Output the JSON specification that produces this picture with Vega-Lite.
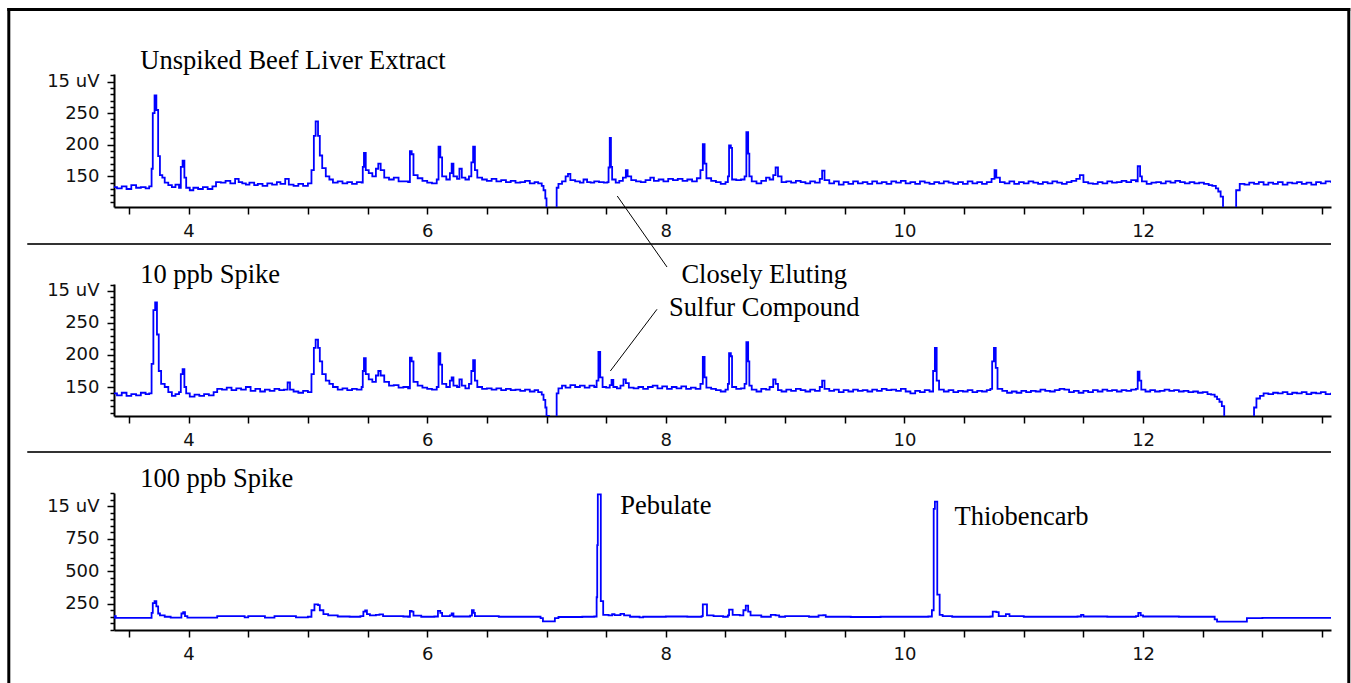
{
"$schema": "https://vega.github.io/schema/vega-lite/v6.json",
"padding": {"left": 6, "top": 7, "right": 2, "bottom": 0},
"bounds": "flush",
"spacing": 77,
"background": "white",
"config": {"view": {"stroke": null}, "axis": {"grid": false, "domainColor": "black", "domainWidth": 2, "tickColor": "black", "tickWidth": 1.5, "labelFont": "DejaVu Sans", "labelFontSize": 18, "labelColor": "#111", "labelOverlap": false, "labelFlush": false}, "text": {"font": "Liberation Serif", "fontSize": 26.5, "color": "black"}},
"datasets": {
"a": [
{"t":3.375,"v":133},{"t":3.40,"v":131},{"t":3.44,"v":134},{"t":3.48,"v":130},{"t":3.52,"v":136},{"t":3.56,"v":132},{"t":3.60,"v":133},{"t":3.64,"v":131},{"t":3.67,"v":134},{"t":3.69,"v":162},{"t":3.70,"v":250},{"t":3.715,"v":278},{"t":3.73,"v":255},{"t":3.745,"v":182},{"t":3.76,"v":152},{"t":3.78,"v":148},{"t":3.80,"v":140},{"t":3.83,"v":136},{"t":3.86,"v":133},{"t":3.89,"v":137},{"t":3.92,"v":132},{"t":3.935,"v":165},{"t":3.95,"v":175},{"t":3.965,"v":148},{"t":3.98,"v":132},{"t":4.01,"v":128},{"t":4.04,"v":132},{"t":4.08,"v":130},{"t":4.12,"v":133},{"t":4.16,"v":130},{"t":4.20,"v":134},{"t":4.23,"v":141},{"t":4.27,"v":140},{"t":4.31,"v":143},{"t":4.35,"v":139},{"t":4.39,"v":146},{"t":4.42,"v":141},{"t":4.45,"v":139},{"t":4.48,"v":137},{"t":4.51,"v":140},{"t":4.55,"v":136},{"t":4.58,"v":138},{"t":4.62,"v":135},{"t":4.66,"v":139},{"t":4.70,"v":137},{"t":4.74,"v":141},{"t":4.77,"v":138},{"t":4.81,"v":146},{"t":4.84,"v":137},{"t":4.88,"v":135},{"t":4.92,"v":138},{"t":4.96,"v":135},{"t":5.00,"v":139},{"t":5.03,"v":160},{"t":5.05,"v":214},{"t":5.065,"v":237},{"t":5.085,"v":214},{"t":5.10,"v":183},{"t":5.12,"v":163},{"t":5.15,"v":150},{"t":5.18,"v":145},{"t":5.21,"v":140},{"t":5.25,"v":142},{"t":5.29,"v":139},{"t":5.33,"v":141},{"t":5.37,"v":138},{"t":5.41,"v":141},{"t":5.45,"v":140},{"t":5.46,"v":165},{"t":5.47,"v":187},{"t":5.485,"v":160},{"t":5.51,"v":155},{"t":5.54,"v":150},{"t":5.57,"v":162},{"t":5.59,"v":170},{"t":5.61,"v":160},{"t":5.64,"v":148},{"t":5.68,"v":145},{"t":5.72,"v":148},{"t":5.76,"v":142},{"t":5.80,"v":142},{"t":5.84,"v":141},{"t":5.855,"v":190},{"t":5.87,"v":185},{"t":5.885,"v":152},{"t":5.92,"v":147},{"t":5.96,"v":143},{"t":6.00,"v":140},{"t":6.04,"v":139},{"t":6.08,"v":145},{"t":6.095,"v":197},{"t":6.11,"v":180},{"t":6.125,"v":150},{"t":6.16,"v":145},{"t":6.19,"v":155},{"t":6.205,"v":170},{"t":6.22,"v":150},{"t":6.25,"v":146},{"t":6.27,"v":162},{"t":6.29,"v":148},{"t":6.32,"v":145},{"t":6.35,"v":150},{"t":6.37,"v":172},{"t":6.385,"v":197},{"t":6.40,"v":160},{"t":6.42,"v":148},{"t":6.46,"v":145},{"t":6.50,"v":143},{"t":6.54,"v":146},{"t":6.58,"v":142},{"t":6.62,"v":144},{"t":6.66,"v":141},{"t":6.70,"v":143},{"t":6.74,"v":140},{"t":6.78,"v":141},{"t":6.82,"v":143},{"t":6.86,"v":139},{"t":6.90,"v":141},{"t":6.93,"v":139},{"t":6.96,"v":135},{"t":6.975,"v":128},{"t":6.99,"v":115},{"t":7.00,"v":100},{"t":7.02,"v":60},{"t":7.08,"v":60},{"t":7.085,"v":132},{"t":7.10,"v":138},{"t":7.13,"v":142},{"t":7.16,"v":150},{"t":7.18,"v":154},{"t":7.20,"v":144},{"t":7.24,"v":142},{"t":7.28,"v":140},{"t":7.31,"v":145},{"t":7.34,"v":141},{"t":7.37,"v":140},{"t":7.40,"v":142},{"t":7.44,"v":141},{"t":7.48,"v":140},{"t":7.51,"v":141},{"t":7.52,"v":164},{"t":7.53,"v":211},{"t":7.54,"v":165},{"t":7.55,"v":145},{"t":7.58,"v":140},{"t":7.61,"v":143},{"t":7.64,"v":148},{"t":7.665,"v":160},{"t":7.68,"v":150},{"t":7.71,"v":144},{"t":7.75,"v":142},{"t":7.79,"v":141},{"t":7.83,"v":144},{"t":7.87,"v":148},{"t":7.90,"v":143},{"t":7.94,"v":145},{"t":7.98,"v":142},{"t":8.02,"v":146},{"t":8.06,"v":144},{"t":8.10,"v":146},{"t":8.14,"v":143},{"t":8.18,"v":145},{"t":8.22,"v":142},{"t":8.26,"v":147},{"t":8.29,"v":160},{"t":8.31,"v":201},{"t":8.325,"v":170},{"t":8.34,"v":147},{"t":8.38,"v":143},{"t":8.42,"v":141},{"t":8.46,"v":138},{"t":8.50,"v":141},{"t":8.52,"v":150},{"t":8.53,"v":199},{"t":8.545,"v":195},{"t":8.555,"v":145},{"t":8.59,"v":144},{"t":8.63,"v":145},{"t":8.66,"v":150},{"t":8.675,"v":220},{"t":8.69,"v":186},{"t":8.70,"v":150},{"t":8.72,"v":142},{"t":8.76,"v":139},{"t":8.80,"v":143},{"t":8.84,"v":148},{"t":8.87,"v":145},{"t":8.90,"v":152},{"t":8.92,"v":164},{"t":8.94,"v":150},{"t":8.97,"v":141},{"t":9.01,"v":142},{"t":9.05,"v":140},{"t":9.09,"v":143},{"t":9.13,"v":141},{"t":9.17,"v":139},{"t":9.21,"v":142},{"t":9.25,"v":140},{"t":9.29,"v":146},{"t":9.31,"v":159},{"t":9.33,"v":144},{"t":9.37,"v":139},{"t":9.41,"v":142},{"t":9.45,"v":137},{"t":9.49,"v":141},{"t":9.53,"v":138},{"t":9.57,"v":142},{"t":9.61,"v":139},{"t":9.65,"v":141},{"t":9.69,"v":138},{"t":9.73,"v":142},{"t":9.77,"v":139},{"t":9.81,"v":141},{"t":9.85,"v":138},{"t":9.89,"v":142},{"t":9.93,"v":140},{"t":9.97,"v":143},{"t":10.01,"v":139},{"t":10.05,"v":141},{"t":10.09,"v":138},{"t":10.13,"v":142},{"t":10.17,"v":140},{"t":10.21,"v":138},{"t":10.25,"v":141},{"t":10.29,"v":139},{"t":10.33,"v":142},{"t":10.37,"v":140},{"t":10.41,"v":138},{"t":10.45,"v":141},{"t":10.49,"v":138},{"t":10.53,"v":142},{"t":10.57,"v":139},{"t":10.61,"v":141},{"t":10.65,"v":138},{"t":10.69,"v":141},{"t":10.73,"v":146},{"t":10.755,"v":160},{"t":10.77,"v":148},{"t":10.80,"v":141},{"t":10.84,"v":139},{"t":10.88,"v":142},{"t":10.92,"v":138},{"t":10.96,"v":141},{"t":11.00,"v":139},{"t":11.04,"v":142},{"t":11.08,"v":140},{"t":11.12,"v":138},{"t":11.16,"v":141},{"t":11.20,"v":139},{"t":11.24,"v":142},{"t":11.28,"v":140},{"t":11.32,"v":138},{"t":11.36,"v":141},{"t":11.40,"v":143},{"t":11.44,"v":146},{"t":11.47,"v":152},{"t":11.50,"v":141},{"t":11.54,"v":139},{"t":11.58,"v":138},{"t":11.62,"v":141},{"t":11.66,"v":139},{"t":11.70,"v":142},{"t":11.74,"v":140},{"t":11.78,"v":141},{"t":11.82,"v":143},{"t":11.86,"v":141},{"t":11.90,"v":144},{"t":11.94,"v":142},{"t":11.955,"v":166},{"t":11.975,"v":150},{"t":11.99,"v":142},{"t":12.03,"v":138},{"t":12.07,"v":140},{"t":12.11,"v":141},{"t":12.15,"v":139},{"t":12.19,"v":142},{"t":12.23,"v":140},{"t":12.27,"v":143},{"t":12.31,"v":141},{"t":12.35,"v":139},{"t":12.39,"v":141},{"t":12.43,"v":139},{"t":12.47,"v":140},{"t":12.51,"v":138},{"t":12.55,"v":136},{"t":12.58,"v":135},{"t":12.61,"v":131},{"t":12.63,"v":126},{"t":12.65,"v":118},{"t":12.67,"v":90},{"t":12.70,"v":60},{"t":12.77,"v":60},{"t":12.78,"v":128},{"t":12.81,"v":138},{"t":12.85,"v":137},{"t":12.89,"v":140},{"t":12.93,"v":138},{"t":12.97,"v":141},{"t":13.01,"v":137},{"t":13.05,"v":140},{"t":13.09,"v":138},{"t":13.13,"v":141},{"t":13.17,"v":137},{"t":13.21,"v":140},{"t":13.25,"v":139},{"t":13.29,"v":141},{"t":13.33,"v":138},{"t":13.37,"v":140},{"t":13.41,"v":137},{"t":13.45,"v":141},{"t":13.49,"v":139},{"t":13.53,"v":142},{"t":13.575,"v":140}
],
"b": [
{"t":3.375,"v":140},{"t":3.40,"v":137},{"t":3.44,"v":141},{"t":3.48,"v":136},{"t":3.52,"v":139},{"t":3.56,"v":137},{"t":3.60,"v":141},{"t":3.64,"v":139},{"t":3.67,"v":140},{"t":3.69,"v":186},{"t":3.705,"v":270},{"t":3.72,"v":282},{"t":3.735,"v":232},{"t":3.75,"v":175},{"t":3.77,"v":155},{"t":3.80,"v":150},{"t":3.83,"v":142},{"t":3.86,"v":136},{"t":3.89,"v":139},{"t":3.92,"v":142},{"t":3.935,"v":170},{"t":3.95,"v":178},{"t":3.965,"v":150},{"t":3.98,"v":140},{"t":4.01,"v":135},{"t":4.05,"v":138},{"t":4.09,"v":136},{"t":4.13,"v":139},{"t":4.17,"v":137},{"t":4.21,"v":142},{"t":4.24,"v":147},{"t":4.28,"v":146},{"t":4.32,"v":149},{"t":4.36,"v":145},{"t":4.40,"v":148},{"t":4.44,"v":146},{"t":4.48,"v":150},{"t":4.52,"v":144},{"t":4.56,"v":147},{"t":4.60,"v":143},{"t":4.64,"v":146},{"t":4.68,"v":144},{"t":4.72,"v":147},{"t":4.76,"v":145},{"t":4.80,"v":146},{"t":4.83,"v":157},{"t":4.85,"v":146},{"t":4.88,"v":143},{"t":4.92,"v":141},{"t":4.96,"v":144},{"t":5.00,"v":142},{"t":5.03,"v":170},{"t":5.05,"v":211},{"t":5.065,"v":224},{"t":5.085,"v":211},{"t":5.10,"v":190},{"t":5.12,"v":170},{"t":5.15,"v":160},{"t":5.18,"v":155},{"t":5.21,"v":150},{"t":5.25,"v":146},{"t":5.29,"v":148},{"t":5.33,"v":145},{"t":5.37,"v":147},{"t":5.41,"v":146},{"t":5.45,"v":150},{"t":5.46,"v":175},{"t":5.47,"v":195},{"t":5.485,"v":170},{"t":5.51,"v":162},{"t":5.54,"v":158},{"t":5.57,"v":168},{"t":5.59,"v":175},{"t":5.61,"v":168},{"t":5.64,"v":158},{"t":5.68,"v":152},{"t":5.72,"v":153},{"t":5.76,"v":149},{"t":5.80,"v":150},{"t":5.84,"v":148},{"t":5.855,"v":196},{"t":5.87,"v":190},{"t":5.885,"v":158},{"t":5.92,"v":152},{"t":5.96,"v":149},{"t":6.00,"v":147},{"t":6.04,"v":146},{"t":6.08,"v":150},{"t":6.095,"v":203},{"t":6.11,"v":185},{"t":6.125,"v":155},{"t":6.16,"v":150},{"t":6.19,"v":160},{"t":6.205,"v":165},{"t":6.22,"v":152},{"t":6.25,"v":150},{"t":6.27,"v":162},{"t":6.29,"v":152},{"t":6.32,"v":148},{"t":6.35,"v":155},{"t":6.37,"v":175},{"t":6.385,"v":192},{"t":6.40,"v":160},{"t":6.42,"v":150},{"t":6.46,"v":147},{"t":6.50,"v":148},{"t":6.54,"v":146},{"t":6.58,"v":148},{"t":6.62,"v":145},{"t":6.66,"v":147},{"t":6.70,"v":145},{"t":6.74,"v":146},{"t":6.78,"v":144},{"t":6.82,"v":146},{"t":6.86,"v":143},{"t":6.90,"v":145},{"t":6.93,"v":142},{"t":6.96,"v":138},{"t":6.975,"v":130},{"t":6.99,"v":118},{"t":7.00,"v":105},{"t":7.02,"v":60},{"t":7.08,"v":60},{"t":7.085,"v":140},{"t":7.10,"v":148},{"t":7.13,"v":152},{"t":7.16,"v":149},{"t":7.20,"v":153},{"t":7.24,"v":150},{"t":7.28,"v":152},{"t":7.32,"v":149},{"t":7.36,"v":152},{"t":7.40,"v":150},{"t":7.42,"v":160},{"t":7.435,"v":205},{"t":7.45,"v":165},{"t":7.47,"v":150},{"t":7.50,"v":149},{"t":7.53,"v":153},{"t":7.545,"v":161},{"t":7.56,"v":150},{"t":7.59,"v":148},{"t":7.62,"v":152},{"t":7.645,"v":162},{"t":7.665,"v":156},{"t":7.69,"v":149},{"t":7.73,"v":148},{"t":7.77,"v":150},{"t":7.81,"v":147},{"t":7.85,"v":150},{"t":7.89,"v":152},{"t":7.93,"v":148},{"t":7.97,"v":151},{"t":8.01,"v":147},{"t":8.05,"v":150},{"t":8.09,"v":148},{"t":8.13,"v":151},{"t":8.17,"v":147},{"t":8.21,"v":149},{"t":8.25,"v":147},{"t":8.29,"v":155},{"t":8.31,"v":197},{"t":8.325,"v":165},{"t":8.34,"v":149},{"t":8.38,"v":147},{"t":8.42,"v":145},{"t":8.46,"v":143},{"t":8.50,"v":146},{"t":8.52,"v":155},{"t":8.53,"v":203},{"t":8.545,"v":198},{"t":8.555,"v":150},{"t":8.59,"v":147},{"t":8.63,"v":148},{"t":8.66,"v":155},{"t":8.675,"v":220},{"t":8.69,"v":190},{"t":8.70,"v":152},{"t":8.72,"v":146},{"t":8.76,"v":143},{"t":8.80,"v":147},{"t":8.84,"v":146},{"t":8.87,"v":150},{"t":8.90,"v":162},{"t":8.92,"v":155},{"t":8.94,"v":145},{"t":8.97,"v":143},{"t":9.01,"v":146},{"t":9.05,"v":144},{"t":9.09,"v":147},{"t":9.13,"v":145},{"t":9.17,"v":143},{"t":9.21,"v":146},{"t":9.25,"v":144},{"t":9.29,"v":150},{"t":9.31,"v":160},{"t":9.33,"v":147},{"t":9.37,"v":144},{"t":9.41,"v":146},{"t":9.45,"v":142},{"t":9.49,"v":145},{"t":9.53,"v":143},{"t":9.57,"v":146},{"t":9.61,"v":144},{"t":9.65,"v":145},{"t":9.69,"v":143},{"t":9.73,"v":146},{"t":9.77,"v":144},{"t":9.81,"v":147},{"t":9.85,"v":145},{"t":9.89,"v":146},{"t":9.93,"v":144},{"t":9.97,"v":147},{"t":10.01,"v":143},{"t":10.05,"v":140},{"t":10.09,"v":144},{"t":10.13,"v":142},{"t":10.17,"v":145},{"t":10.21,"v":143},{"t":10.24,"v":175},{"t":10.255,"v":211},{"t":10.27,"v":160},{"t":10.29,"v":146},{"t":10.33,"v":143},{"t":10.37,"v":145},{"t":10.41,"v":142},{"t":10.45,"v":144},{"t":10.49,"v":143},{"t":10.53,"v":145},{"t":10.57,"v":142},{"t":10.61,"v":144},{"t":10.65,"v":143},{"t":10.69,"v":145},{"t":10.72,"v":147},{"t":10.735,"v":190},{"t":10.75,"v":211},{"t":10.765,"v":180},{"t":10.78,"v":147},{"t":10.82,"v":144},{"t":10.86,"v":141},{"t":10.90,"v":143},{"t":10.94,"v":141},{"t":10.98,"v":144},{"t":11.02,"v":142},{"t":11.06,"v":144},{"t":11.10,"v":143},{"t":11.14,"v":146},{"t":11.18,"v":144},{"t":11.22,"v":143},{"t":11.26,"v":145},{"t":11.30,"v":147},{"t":11.34,"v":146},{"t":11.38,"v":142},{"t":11.42,"v":144},{"t":11.46,"v":141},{"t":11.50,"v":144},{"t":11.54,"v":142},{"t":11.58,"v":145},{"t":11.62,"v":143},{"t":11.66,"v":146},{"t":11.70,"v":144},{"t":11.74,"v":145},{"t":11.78,"v":143},{"t":11.82,"v":145},{"t":11.86,"v":144},{"t":11.90,"v":146},{"t":11.94,"v":147},{"t":11.955,"v":174},{"t":11.97,"v":160},{"t":11.985,"v":146},{"t":12.02,"v":143},{"t":12.06,"v":145},{"t":12.10,"v":143},{"t":12.14,"v":144},{"t":12.18,"v":146},{"t":12.22,"v":144},{"t":12.26,"v":145},{"t":12.30,"v":143},{"t":12.34,"v":144},{"t":12.38,"v":142},{"t":12.42,"v":143},{"t":12.46,"v":141},{"t":12.50,"v":142},{"t":12.54,"v":139},{"t":12.57,"v":138},{"t":12.60,"v":135},{"t":12.62,"v":131},{"t":12.64,"v":127},{"t":12.66,"v":120},{"t":12.68,"v":90},{"t":12.70,"v":60},{"t":12.92,"v":60},{"t":12.93,"v":118},{"t":12.95,"v":132},{"t":12.98,"v":136},{"t":13.01,"v":140},{"t":13.05,"v":139},{"t":13.09,"v":141},{"t":13.13,"v":140},{"t":13.17,"v":142},{"t":13.21,"v":139},{"t":13.25,"v":141},{"t":13.29,"v":140},{"t":13.33,"v":142},{"t":13.37,"v":139},{"t":13.41,"v":141},{"t":13.45,"v":140},{"t":13.49,"v":142},{"t":13.53,"v":139},{"t":13.575,"v":141}
],
"c": [
{"t":3.375,"v":142},{"t":3.38,"v":155},{"t":3.39,"v":142},{"t":3.50,"v":142},{"t":3.60,"v":142},{"t":3.67,"v":142},{"t":3.69,"v":180},{"t":3.70,"v":255},{"t":3.715,"v":270},{"t":3.73,"v":230},{"t":3.745,"v":175},{"t":3.76,"v":160},{"t":3.80,"v":150},{"t":3.85,"v":143},{"t":3.93,"v":143},{"t":3.94,"v":175},{"t":3.955,"v":186},{"t":3.97,"v":155},{"t":3.99,"v":143},{"t":4.10,"v":143},{"t":4.22,"v":143},{"t":4.24,"v":155},{"t":4.45,"v":155},{"t":4.47,"v":145},{"t":4.50,"v":155},{"t":4.62,"v":155},{"t":4.64,"v":143},{"t":4.70,"v":143},{"t":4.72,"v":155},{"t":4.88,"v":155},{"t":4.90,"v":145},{"t":5.00,"v":150},{"t":5.03,"v":200},{"t":5.055,"v":245},{"t":5.085,"v":240},{"t":5.10,"v":200},{"t":5.13,"v":170},{"t":5.17,"v":160},{"t":5.25,"v":152},{"t":5.35,"v":150},{"t":5.44,"v":155},{"t":5.465,"v":190},{"t":5.48,"v":199},{"t":5.495,"v":170},{"t":5.52,"v":160},{"t":5.57,"v":165},{"t":5.60,"v":168},{"t":5.63,"v":155},{"t":5.80,"v":152},{"t":5.84,"v":150},{"t":5.855,"v":195},{"t":5.87,"v":190},{"t":5.885,"v":158},{"t":5.95,"v":150},{"t":6.06,"v":152},{"t":6.09,"v":195},{"t":6.11,"v":180},{"t":6.125,"v":155},{"t":6.19,"v":160},{"t":6.205,"v":175},{"t":6.22,"v":152},{"t":6.36,"v":158},{"t":6.375,"v":200},{"t":6.39,"v":180},{"t":6.40,"v":155},{"t":6.60,"v":150},{"t":6.90,"v":150},{"t":6.95,"v":140},{"t":6.97,"v":115},{"t":7.05,"v":115},{"t":7.07,"v":140},{"t":7.10,"v":148},{"t":7.30,"v":150},{"t":7.40,"v":152},{"t":7.42,"v":300},{"t":7.425,"v":700},{"t":7.43,"v":1091},{"t":7.445,"v":1091},{"t":7.455,"v":270},{"t":7.47,"v":270},{"t":7.475,"v":165},{"t":7.52,"v":160},{"t":7.55,"v":170},{"t":7.57,"v":162},{"t":7.62,"v":172},{"t":7.65,"v":160},{"t":7.70,"v":150},{"t":7.78,"v":145},{"t":7.81,"v":150},{"t":7.90,"v":150},{"t":8.00,"v":152},{"t":8.18,"v":150},{"t":8.30,"v":155},{"t":8.31,"v":245},{"t":8.33,"v":245},{"t":8.345,"v":160},{"t":8.40,"v":155},{"t":8.48,"v":150},{"t":8.52,"v":160},{"t":8.53,"v":205},{"t":8.55,"v":205},{"t":8.56,"v":165},{"t":8.62,"v":160},{"t":8.65,"v":200},{"t":8.67,"v":235},{"t":8.69,"v":190},{"t":8.71,"v":160},{"t":8.80,"v":150},{"t":8.88,"v":165},{"t":8.92,"v":160},{"t":8.95,"v":150},{"t":9.00,"v":155},{"t":9.20,"v":150},{"t":9.28,"v":160},{"t":9.32,"v":162},{"t":9.34,"v":150},{"t":9.45,"v":150},{"t":9.55,"v":148},{"t":9.80,"v":150},{"t":10.00,"v":150},{"t":10.20,"v":152},{"t":10.23,"v":200},{"t":10.245,"v":980},{"t":10.255,"v":1035},{"t":10.265,"v":1035},{"t":10.275,"v":320},{"t":10.29,"v":320},{"t":10.295,"v":165},{"t":10.32,"v":155},{"t":10.40,"v":150},{"t":10.50,"v":150},{"t":10.72,"v":152},{"t":10.74,"v":190},{"t":10.77,"v":185},{"t":10.79,"v":155},{"t":10.85,"v":170},{"t":10.88,"v":155},{"t":11.00,"v":150},{"t":11.20,"v":150},{"t":11.45,"v":152},{"t":11.48,"v":165},{"t":11.50,"v":152},{"t":11.70,"v":150},{"t":11.94,"v":155},{"t":11.96,"v":180},{"t":11.98,"v":160},{"t":12.00,"v":152},{"t":12.30,"v":150},{"t":12.55,"v":150},{"t":12.60,"v":130},{"t":12.62,"v":112},{"t":12.85,"v":112},{"t":12.87,"v":140},{"t":13.00,"v":142},{"t":13.575,"v":142}
],
"frame": [
{"t":2.4933,"t2":2.4933,"v":414.1,"v2":-651.1},
{"t":2.4933,"t2":13.724,"v":414.1,"v2":414.1},
{"t":13.724,"t2":13.724,"v":414.1,"v2":-651.1}
],
"sep1": [{"t":2.648,"t2":13.575,"v":42.9,"v2":42.9}],
"lead1": [{"t":7.593,"t2":8.010,"v":118.9,"v2":6.5}],
"sep2": [{"t":2.648,"t2":13.575,"v":48.5,"v2":48.5}],
"lead2": [{"t":7.926,"t2":7.535,"v":271.4,"v2":175.0}],
"txt1": [{"t":3.595,"v":319.9,"label":"Unspiked Beef Liver Extract"}],
"txt2": [{"t":3.595,"v":312.5,"label":"10 ppb Spike"}],
"txt2c": [{"t":8.825,"v":312.9,"label":"Closely Eluting"},{"t":8.825,"v":260.9,"label":"Sulfur Compound"}],
"txt3": [{"t":3.595,"v":1147.6,"label":"100 ppb Spike"},{"t":7.618,"v":937.7,"label":"Pebulate"},{"t":10.42,"v":855.4,"label":"Thiobencarb"}]
},
"vconcat": [
{
"width": 1217, "height": 133,
"encoding": {
  "x": {"field": "t", "type": "quantitative", "scale": {"domain": [3.375, 13.575], "nice": false, "zero": false}, "axis": {"title": null, "values": [3.5,4,4.5,5,5.5,6,6.5,7,7.5,8,8.5,9,9.5,10,10.5,11,11.5,12,12.5,13,13.5], "labelExpr": "datum.value % 2 === 0 ? '' + datum.value : ''", "tickSize": 7, "labelPadding": 8}},
  "y": {"field": "v", "type": "quantitative", "scale": {"domain": [101.5, 312], "nice": false, "zero": false}, "axis": {"title": null, "values": [110,120,130,140,150,160,170,180,190,200,210,220,230,240,250,260,270,280,290,300,310], "labelExpr": "datum.value === 300 ? '15 uV' : (datum.value % 50 === 0 ? '' + datum.value : '')", "tickSize": {"condition": {"test": "datum.value % 50 === 0", "value": 7}, "value": 4}, "labelPadding": 8}}
},
"layer": [
{"data": {"name": "a"}, "mark": {"type": "line", "color": "#0000ff", "strokeWidth": 1.8, "interpolate": "step-after", "clip": true}},
{"data": {"name": "frame"}, "mark": {"type": "rule", "color": "black", "strokeWidth": 3, "strokeCap": "square"},
 "encoding": {"x2": {"field": "t2"}, "y2": {"field": "v2"}}},
{"data": {"name": "sep1"}, "mark": {"type": "rule", "color": "#333", "strokeWidth": 2},
 "encoding": {"x2": {"field": "t2"}, "y2": {"field": "v2"}}},
{"data": {"name": "lead1"}, "mark": {"type": "rule", "color": "black", "strokeWidth": 1},
 "encoding": {"x2": {"field": "t2"}, "y2": {"field": "v2"}}},
{"data": {"name": "txt1"}, "mark": {"type": "text", "align": "left", "baseline": "alphabetic"},
 "encoding": {"text": {"field": "label", "type": "nominal"}}}
]
},
{
"width": 1217, "height": 132,
"encoding": {
  "x": {"field": "t", "type": "quantitative", "scale": {"domain": [3.375, 13.575], "nice": false, "zero": false}, "axis": {"title": null, "values": [3.5,4,4.5,5,5.5,6,6.5,7,7.5,8,8.5,9,9.5,10,10.5,11,11.5,12,12.5,13,13.5], "labelExpr": "datum.value % 2 === 0 ? '' + datum.value : ''", "tickSize": 7, "labelPadding": 8}},
  "y": {"field": "v", "type": "quantitative", "scale": {"domain": [104.7, 310.9], "nice": false, "zero": false}, "axis": {"title": null, "values": [110,120,130,140,150,160,170,180,190,200,210,220,230,240,250,260,270,280,290,300,310], "labelExpr": "datum.value === 300 ? '15 uV' : (datum.value % 50 === 0 ? '' + datum.value : '')", "tickSize": {"condition": {"test": "datum.value % 50 === 0", "value": 7}, "value": 4}, "labelPadding": 8}}
},
"layer": [
{"data": {"name": "b"}, "mark": {"type": "line", "color": "#0000ff", "strokeWidth": 1.8, "interpolate": "step-after", "clip": true}},
{"data": {"name": "sep2"}, "mark": {"type": "rule", "color": "#333", "strokeWidth": 2},
 "encoding": {"x2": {"field": "t2"}, "y2": {"field": "v2"}}},
{"data": {"name": "lead2"}, "mark": {"type": "rule", "color": "black", "strokeWidth": 1},
 "encoding": {"x2": {"field": "t2"}, "y2": {"field": "v2"}}},
{"data": {"name": "txt2"}, "mark": {"type": "text", "align": "left", "baseline": "alphabetic"},
 "encoding": {"text": {"field": "label", "type": "nominal"}}},
{"data": {"name": "txt2c"}, "mark": {"type": "text", "align": "center", "baseline": "alphabetic"},
 "encoding": {"text": {"field": "label", "type": "nominal"}}}
]
},
{
"width": 1217, "height": 137,
"encoding": {
  "x": {"field": "t", "type": "quantitative", "scale": {"domain": [3.375, 13.575], "nice": false, "zero": false}, "axis": {"title": null, "values": [3.5,4,4.5,5,5.5,6,6.5,7,7.5,8,8.5,9,9.5,10,10.5,11,11.5,12,12.5,13,13.5], "labelExpr": "datum.value % 2 === 0 ? '' + datum.value : ''", "tickSize": 7, "labelPadding": 8}},
  "y": {"field": "v", "type": "quantitative", "scale": {"domain": [48, 1101.5], "nice": false, "zero": false}, "axis": {"title": null, "values": [50,100,150,200,250,300,350,400,450,500,550,600,650,700,750,800,850,900,950,1000,1050,1100], "labelExpr": "datum.value === 1000 ? '15 uV' : (datum.value % 250 === 0 ? '' + datum.value : '')", "tickSize": {"condition": {"test": "datum.value % 250 === 0", "value": 7}, "value": 4}, "labelPadding": 8}}
},
"layer": [
{"data": {"name": "c"}, "mark": {"type": "line", "color": "#0000ff", "strokeWidth": 1.8, "interpolate": "step-after", "clip": true}},
{"data": {"name": "txt3"}, "mark": {"type": "text", "align": "left", "baseline": "alphabetic"},
 "encoding": {"text": {"field": "label", "type": "nominal"}}}
]
}
]
}
